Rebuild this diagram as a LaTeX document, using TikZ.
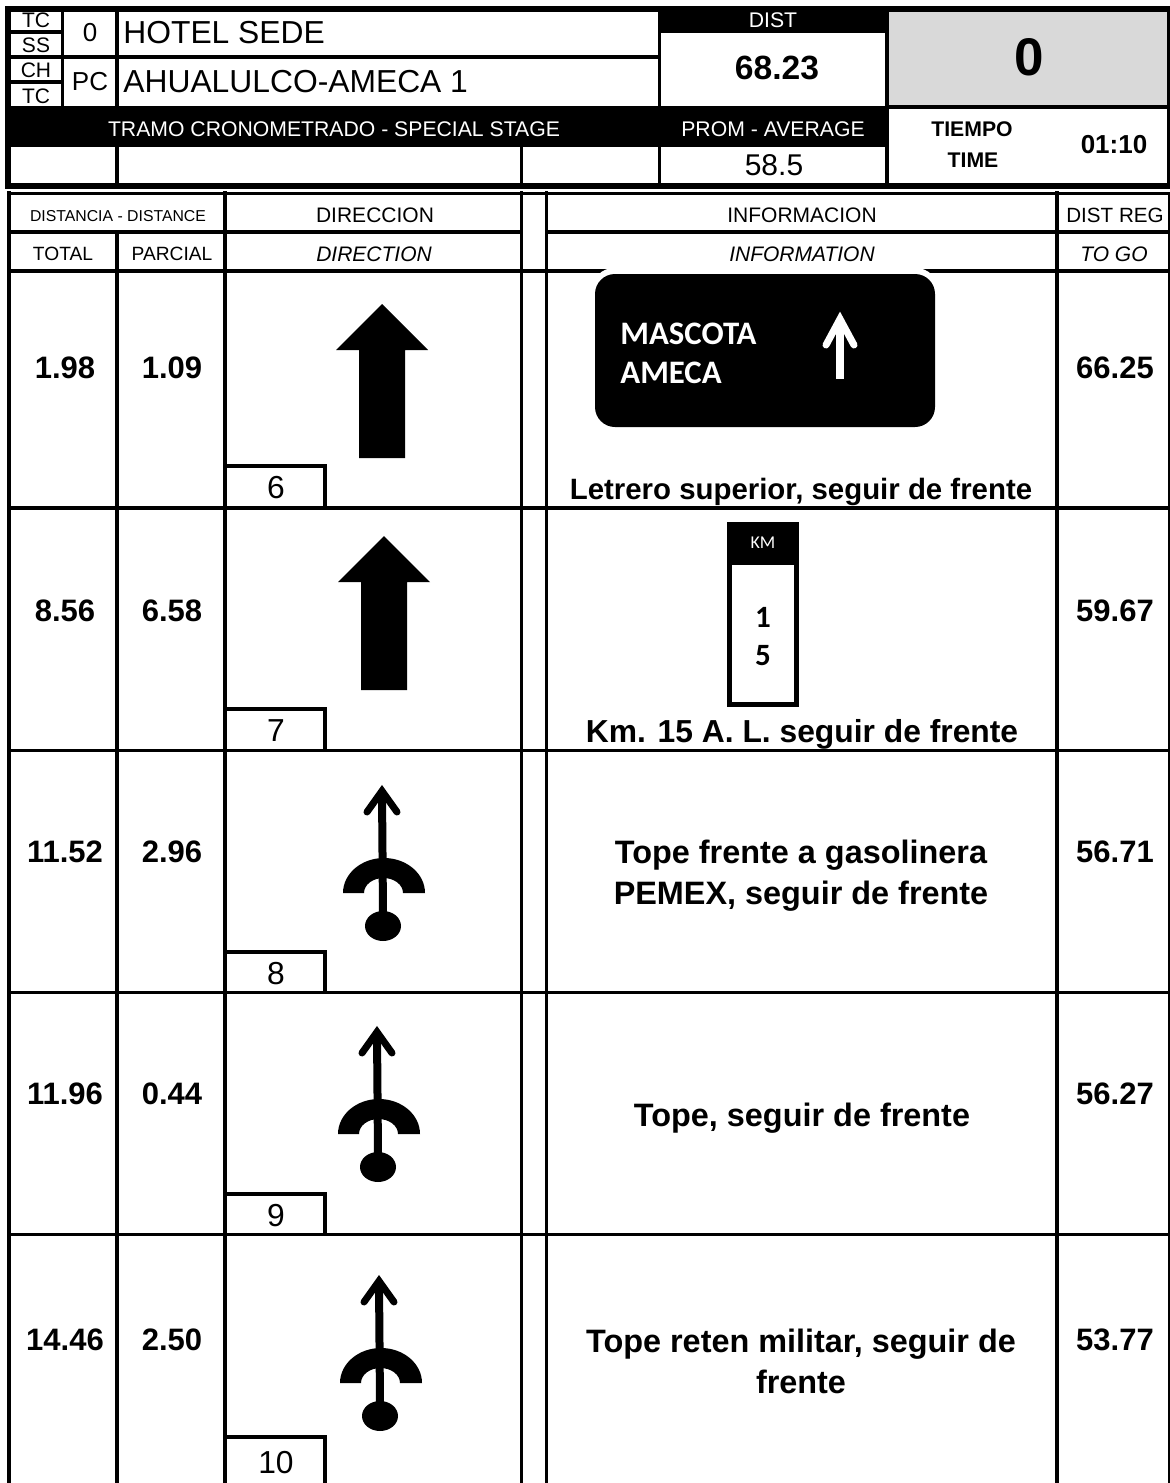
\documentclass[tikz,border=0pt]{standalone}
\usepackage{fontspec}
\setmainfont{Liberation Sans}
\newfontfamily\signfont{Carlito}
\usetikzlibrary{calc,positioning}
\tikzset{
	rule/.style={line width=1.7pt,line cap=rect},
	hdr/.style={font=\fontsize{10.5}{12}\selectfont},
	hdrit/.style={font=\fontsize{10.5}{12}\itshape\selectfont},
	hdrsm/.style={font=\fontsize{9.6}{11}\selectfont},
	hdrw/.style={font=\fontsize{10.6}{13}\selectfont,text=white},
	val/.style={font=\fontsize{15.5}{18}\bfseries\selectfont},
	note/.style={font=\fontsize{16.2}{18}\bfseries\selectfont,align=center},
	title/.style={font=\fontsize{15.9}{18}\selectfont,anchor=west,inner sep=0},
	signtext/.style={font=\signfont\fontsize{16.4}{18}\bfseries\selectfont,text=white,anchor=west,inner sep=0},
	postnum/.style={font=\signfont\fontsize{15.5}{17}\bfseries\selectfont},
	pics/bigarrow/.style={code={
		\fill (0,0) -- (46,46) -- (23,46) -- (23,154) -- (-23,154) -- (-23,46) -- (-46,46) -- cycle;
	}},
	pics/topesign/.style={code={
		\draw[line width=4pt] (0,8) -- (1,128);
		\draw[line width=3.5pt,line cap=round,line join=miter] (-15,27) -- (0,6) -- (15,27);
		\fill (-39,108) arc[start angle=180,end angle=360,x radius=41,y radius=35] -- (21,108) arc[start angle=0,end angle=-180,x radius=19.5,y radius=15] -- cycle;
		\fill (1,141) ellipse[x radius=18,y radius=15];
	}},
}
\begin{document}
\begin{tikzpicture}[x=0.5pt,y=-0.5pt]
	\useasboundingbox (0,0) rectangle (1170,1483);

	% top block
	\fill[black!15] (887,12) rectangle (1168,106);
	\fill (659,10) rectangle (887,33);
	\fill (7,106) rectangle (887,147);
	\node[hdr,inner sep=0] (tc) at (36,20) {TC};
	\draw[line width=3pt] (1170,9) -| (8,186) -- (1170,186);
	\draw[rule] (1168.5,9) -- (1168.5,186);
	\draw[rule] (62.5,12) -- (62.5,106);
	\draw[rule] (117,12) -- (117,106);
	\draw[rule] (117,147) -- (117,184);
	\draw[rule] (521.5,147) -- (521.5,184);
	\draw[rule] (659.5,12) -- (659.5,184);
	\draw[rule] (887,12) -- (887,184);
	\draw[rule] (10,32) -- (60,32);
	\draw[rule] (10,82) -- (60,82);
	\draw[line width=2pt] (8,57) -- (660,57);
	\draw[rule] (887,107) -- (1168,107);

	\node[hdr,inner sep=0] (ss) at (36,45) {SS};
	\node[hdr,inner sep=0] (ch) at (36,70) {CH};
	\node[hdr,inner sep=0] (tcb) at (36,96) {TC};
	\node[font=\fontsize{13}{15}\selectfont] (zero) at (90,33) {0};
	\node[font=\fontsize{13}{15}\selectfont] (pc) at (90,82) {PC};
	\node[title] (hotel) at (123,33) {HOTEL SEDE};
	\node[title] (route) at (123,82) {AHUALULCO-AMECA 1};
	\node[hdrw] (dist) at (773,20) {DIST};
	\node[font=\fontsize{16.8}{20}\bfseries\selectfont] (distval) at (777,68) {68.23};
	\node[font=\fontsize{26.5}{28}\bfseries\selectfont] (stage) at (1029,57) {0};
	\node[hdrw] (tramo) at (334,129) {TRAMO CRONOMETRADO - SPECIAL STAGE};
	\node[hdrw] (prom) at (773,129) {PROM - AVERAGE};
	\node[font=\fontsize{15}{17}\selectfont] (promval) at (774,165) {58.5};
	\node[font=\fontsize{10.6}{12}\bfseries\selectfont] (tiempo) at (972,129) {TIEMPO};
	\node[font=\fontsize{10.6}{12}\bfseries\selectfont] (time) at (973,160) {TIME};
	\node[font=\fontsize{13}{15}\bfseries\selectfont] (timeval) at (1114,145) {01:10};

	% table head
	\draw[rule] (9,193.5) -- (1168,193.5);
	\draw[rule] (9,193) -- (9,1483);
	\draw[line width=1pt] (1169,193) -- (1169,1483);
	\draw[rule] (9,232) -- (521,232);
	\draw[rule] (547,232) -- (1168,232);
	\draw[rule] (9,271) -- (1168,271);
	\draw[rule] (117,232) -- (117,1483);
	\foreach \colx in {225,521.5,546.5,1057}
		\draw[rule] (\colx,193) -- (\colx,1483);

	\node[font=\fontsize{7.9}{10}\selectfont] (distancia) at (118,216) {DISTANCIA - DISTANCE};
	\node[hdr] (direccion) at (375,215) {DIRECCION};
	\node[hdr] (informacion) at (802,215) {INFORMACION};
	\node[font=\fontsize{10.3}{12}\selectfont] (distreg) at (1115,215) {DIST REG};
	\node[hdrsm] (total) at (63,254) {TOTAL};
	\node[hdrsm] (parcial) at (172,254) {PARCIAL};
	\node[hdrit] (direction) at (374,254) {DIRECTION};
	\node[hdrit] (information) at (802,254) {INFORMATION};
	\node[hdrit] (togo) at (1114,254) {TO GO};

	% rows
	\foreach \rownum/\rowy/\liney/\boxy/\numy/\totv/\parv/\regv in {
		6/368/508/466/488/1.98/1.09/66.25,
		7/611/750.5/709/731/8.56/6.58/59.67,
		8/852/992.5/952/974/11.52/2.96/56.71,
		9/1094/1234.5/1194/1216/11.96/0.44/56.27,
		10/1340/1490/1437/1463/14.46/2.50/53.77}{
		\node[val] (tot\rownum) at (65,\rowy) {\totv};
		\node[val] (par\rownum) at (172,\rowy) {\parv};
		\node[val] (reg\rownum) at (1115,\rowy) {\regv};
		\draw[rule] (9,\liney) -- (1168,\liney);
		\draw[rule] (225,\boxy) -| (325,\liney);
		\node[font=\fontsize{15.9}{18}\selectfont] (num\rownum) at (276,\numy) {\rownum};
	}

	% direction symbols
	\pic at (382,304) {bigarrow};
	\pic at (384,536) {bigarrow};
	\pic at (382,785) {topesign};
	\pic at (377,1026) {topesign};
	\pic at (379,1275) {topesign};

	% sign with the place names
	\fill[white,rounded corners=11pt] (592,268) rectangle (938,430);
	\fill[rounded corners=10pt] (595,274) rectangle (935,427);
	\node[signtext] (mascota) at (620,334) {MASCOTA};
	\node[signtext] (ameca) at (620,373) {AMECA};
	\draw[white,line width=4pt] (840,322) -- (840,379);
	\draw[white,line width=3.5pt,line cap=round,line join=miter] (826,345) -- (840,319) -- (854,345);

	% km post
	\draw[line width=2.5pt,fill=white] (729.5,525) rectangle (796.5,704.5);
	\fill (727,522) rectangle (799,565);
	\node[font=\signfont\fontsize{9}{11}\selectfont,text=white] (km) at (763,543) {KM};
	\node[postnum] (kma) at (763,617) {1};
	\node[postnum] (kmb) at (763,656) {5};

	% notes
	\node[note,font=\fontsize{14.7}{18}\bfseries\selectfont] (letrero) at (801,492) {Letrero superior, seguir de frente};
	\node[note,font=\fontsize{15.9}{18}\bfseries\selectfont] (kmnote) at (802,734) {Km. 15 A. L. seguir de frente};
	\node[note] (tope8a) at (801,855) {Tope frente a gasolinera};
	\node[note] (tope8b) at (801,896) {PEMEX, seguir de frente};
	\node[note] (tope9) at (802,1118) {Tope, seguir de frente};
	\node[note] (tope10a) at (801,1344) {Tope reten militar, seguir de};
	\node[note] (tope10b) at (801,1382) {frente};
\end{tikzpicture}
\end{document}
